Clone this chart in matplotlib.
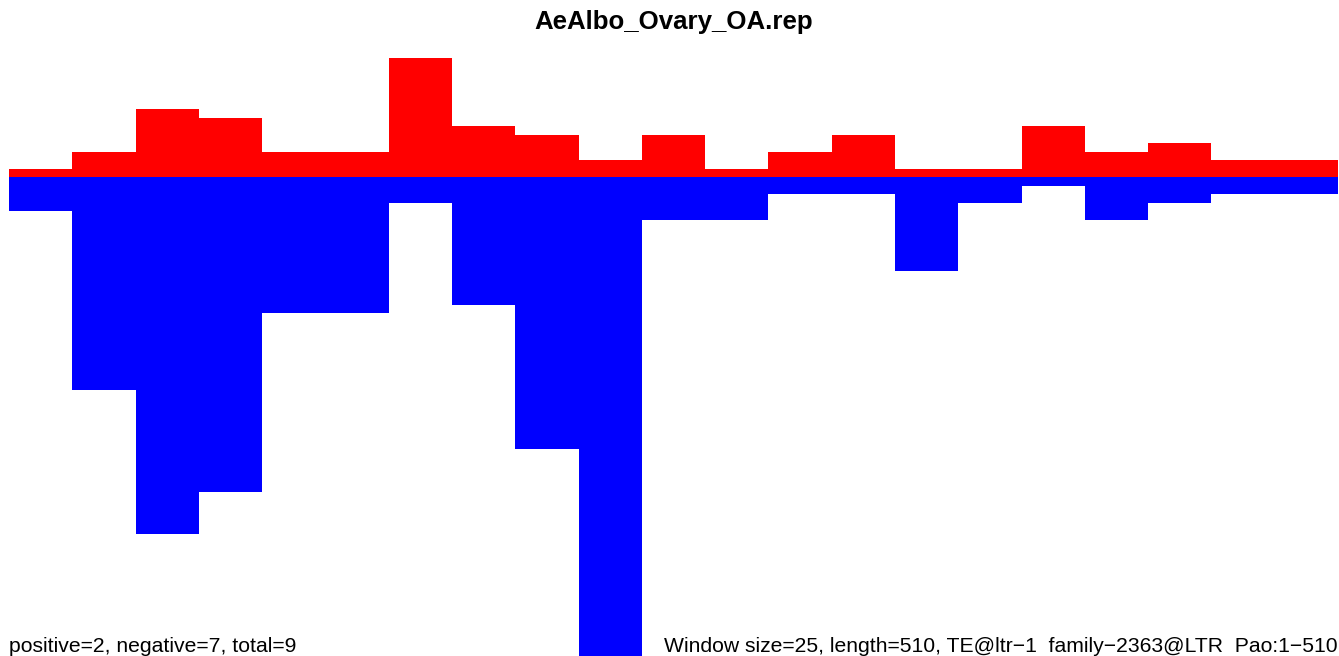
import matplotlib
matplotlib.use("Agg")
import matplotlib.pyplot as plt
import numpy as np

title = "AeAlbo_Ovary_OA.rep"
left_note = "positive=2, negative=7, total=9"
right_note = "Window size=25, length=510, TE@ltr\u22121  family\u22122363@LTR  Pao:1\u2212510"

# per-window counts (window size 25, 21 windows)
positive_counts = [1, 3, 8, 7, 3, 3, 14, 6, 5, 2, 5, 1, 3, 5, 1, 1, 6, 3, 4, 2, 2]
negative_counts = [4, 25, 42, 37, 16, 16, 3, 15, 32, 60, 5, 5, 2, 2, 11, 3, 1, 5, 3, 2, 2]

plt.rcParams['font.family'] = ['Liberation Sans', 'DejaVu Sans']

W, H = 1339, 656
fig = plt.figure(figsize=(W / 100, H / 100), dpi=100)

px_unit = 8.5
base_px = 177.3
top_px = 40
ax = fig.add_axes([9 / W, 0, (1338 - 9) / W, 1 - top_px / H])
n = len(positive_counts)
x = np.arange(n)
ax.bar(x, [-v for v in negative_counts], width=1.0, align='edge', color='#0000FF', linewidth=0)
ax.bar(x, positive_counts, width=1.0, align='edge', color='#FF0000', linewidth=0)
ax.set_xlim(0, n)
ax.set_ylim(-(H - base_px) / px_unit, (base_px - top_px) / px_unit)
ax.axis('off')

fig.text(673.5 / W, 1 - 29 / H, title, ha='center', va='baseline',
         fontsize=18.6, fontweight='bold')
fig.text(9 / W, 1 - 652 / H, left_note, ha='left', va='baseline', fontsize=15.2)
fig.text(1338 / W, 1 - 652 / H, right_note, ha='right', va='baseline', fontsize=15.2)

fig.savefig("out.png", dpi=100)
